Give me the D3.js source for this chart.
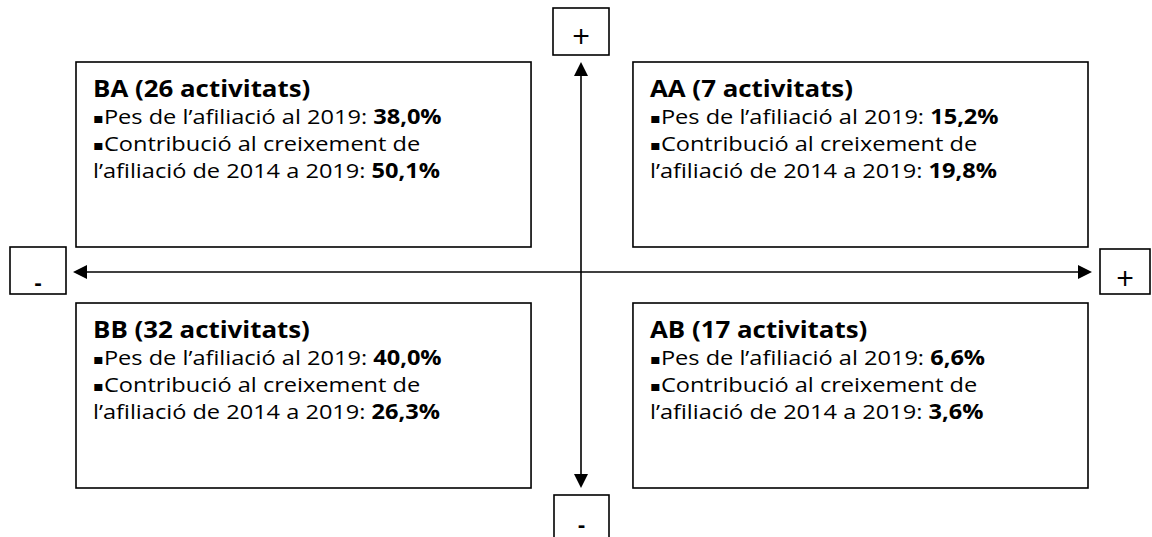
<!DOCTYPE html>
<html>
<head>
<meta charset="utf-8">
<script src="https://cdn.jsdelivr.net/npm/d3@7"></script>
<style>
  html, body { margin: 0; padding: 0; background: #fff; }
  svg { display: block; }
  text { font-family: "Open Sans", "Noto Sans", sans-serif; fill: #000; }
</style>
</head>
<body>
<svg id="chart"></svg>
<script>
'use strict'

const width = 1152
const height = 537

// quadrant data (first letter: horizontal axis, second: vertical axis)
const quadrants = ['BA', 'AA', 'BB', 'AB']
const activityCounts = [26, 7, 32, 17]
const weight2019 = ['38,0%', '15,2%', '40,0%', '6,6%']
const growthContribution = ['50,1%', '19,8%', '26,3%', '3,6%']

const svg = d3.select('#chart').attr('width', width).attr('height', height)

const x = d3.scaleBand().domain(['B', 'A']).range([76, 1088]).paddingInner(0.183)
const y = d3.scaleBand().domain(['A', 'B']).range([62, 488]).paddingInner(0.2324)

const cx = 581
const cy = 272
const stretch = 1.15

// axes
svg.append('line')
  .attr('x1', cx).attr('x2', cx).attr('y1', 70).attr('y2', 480)
  .attr('stroke', '#000').attr('stroke-width', 1.6)
svg.append('line')
  .attr('x1', 82).attr('x2', 1084).attr('y1', cy).attr('y2', cy)
  .attr('stroke', '#000').attr('stroke-width', 1.6)

const heads = [
  `M${cx},62 L${cx - 7},76 L${cx + 7},76 Z`,
  `M${cx},488 L${cx - 7},474 L${cx + 7},474 Z`,
  `M73,${cy} L87,${cy - 7} L87,${cy + 7} Z`,
  `M1092,${cy} L1078,${cy - 7} L1078,${cy + 7} Z`
]
svg.selectAll('path.head').data(heads).enter().append('path')
  .attr('class', 'head').attr('d', (d) => d).attr('fill', '#000')

// sign boxes
const signs = [
  { s: '+', x0: 553, y0: 8, w: 56, h: 47, by: 48 },
  { s: '-', x0: 554, y0: 495, w: 55, h: 50, by: 532 },
  { s: '-', x0: 10, y0: 247, w: 56, h: 47, by: 290 },
  { s: '+', x0: 1100, y0: 249, w: 50, h: 45, by: 290 }
]
const sg = svg.selectAll('g.sign').data(signs).enter().append('g').attr('class', 'sign')
sg.append('rect')
  .attr('x', (d) => d.x0).attr('y', (d) => d.y0)
  .attr('width', (d) => d.w).attr('height', (d) => d.h)
  .attr('fill', '#fff').attr('stroke', '#000').attr('stroke-width', 1.6)
sg.append('text')
  .attr('x', (d) => d.x0 + d.w / 2)
  .attr('y', (d) => d.by)
  .attr('text-anchor', 'middle')
  .style('font-size', (d) => d.s === '+' ? '31px' : '22px')
  .style('font-weight', (d) => d.s === '-' ? 'bold' : 'normal')
  .text((d) => d.s)

// quadrant boxes
const boxes = quadrants.map((q, i) => ({
  q, n: activityCounts[i], w: weight2019[i], c: growthContribution[i]
}))

const bg = svg.selectAll('g.box').data(boxes).enter().append('g')
  .attr('class', 'box')
  .attr('transform', (d) => `translate(${x(d.q[0])},${y(d.q[1])})`)

bg.append('rect')
  .attr('width', x.bandwidth()).attr('height', y.bandwidth())
  .attr('fill', '#fff').attr('stroke', '#000').attr('stroke-width', 1.6)

const tg = bg.append('g').attr('transform', `translate(17,0) scale(${stretch},1)`)

tg.append('text')
  .attr('y', 35)
  .style('font-size', '22.5px').style('font-weight', 'bold')
  .text((d) => `${d.q} (${d.n} activitats)`)

const line1 = tg.append('text').attr('y', 62).style('font-size', '20.5px')
line1.append('tspan').style('font-family', 'DejaVu Sans').style('font-size', '14px').attr('dy', -1).text('▪')
line1.append('tspan').attr('dy', 1).text('Pes de l’afiliació al 2019: ')
line1.append('tspan').style('font-weight', 'bold').text((d) => d.w)

const line2 = tg.append('text').attr('y', 89).style('font-size', '20.5px')
line2.append('tspan').style('font-family', 'DejaVu Sans').style('font-size', '14px').attr('dy', -1).text('▪')
line2.append('tspan').attr('dy', 1).text('Contribució al creixement de')

const line3 = tg.append('text').attr('y', 116).style('font-size', '20.5px')
line3.append('tspan').text('l’afiliació de 2014 a 2019: ')
line3.append('tspan').style('font-weight', 'bold').text((d) => d.c)
</script>
</body>
</html>
